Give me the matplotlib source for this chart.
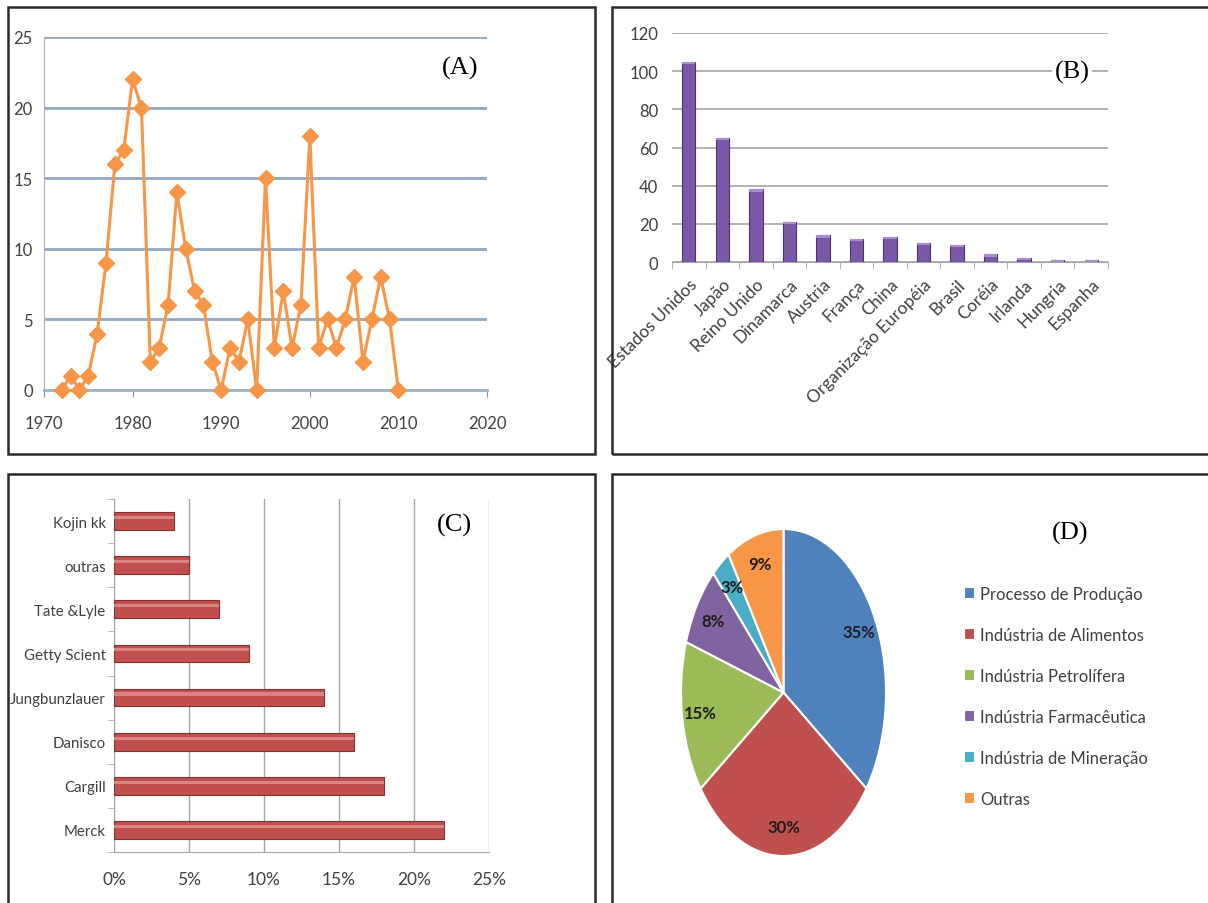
import matplotlib
matplotlib.use("Agg")
import matplotlib.pyplot as plt
from matplotlib.patches import Rectangle
from matplotlib.ticker import FixedLocator, FuncFormatter
import numpy as np

plt.rcParams['font.family'] = ['Lato', 'DejaVu Sans']

# Panel A - number of records per year
years = list(range(1972, 2011))
counts = [0, 1, 0, 1, 4, 9, 16, 17, 22, 20, 2, 3, 6, 14, 10, 7, 6, 2, 0, 3,
          2, 5, 0, 15, 3, 7, 3, 6, 18, 3, 5, 3, 5, 8, 2, 5, 8, 5, 0]

# Panel B - countries
countries = ['Estados Unidos', 'Japão', 'Reino Unido', 'Dinamarca', 'Austria',
             'França', 'China', 'Organização Européia', 'Brasil', 'Coréia',
             'Irlanda', 'Hungria', 'Espanha']
country_vals = [105, 65, 38, 21, 14, 12, 13, 10, 9, 4, 2, 1, 1]

# Panel C - companies (share)
companies = ['Merck', 'Cargill', 'Danisco', 'Jungbunzlauer', 'Getty Scient',
             'Tate &Lyle', 'outras', 'Kojin kk']
company_share = [0.22, 0.18, 0.16, 0.14, 0.09, 0.07, 0.05, 0.04]

# Panel D - applications
sectors = ['Processo de Produção', 'Indústria de Alimentos', 'Indústria Petrolífera',
           'Indústria Farmacêutica', 'Indústria de Mineração', 'Outras']
sector_pct = [35, 30, 15, 8, 3, 9]
sector_colors = ['#4F81BD', '#C0504D', '#9BBB59', '#8064A2', '#4BACC6', '#F79646']

W, H = 1208, 904
fig = plt.figure(figsize=(W / 100, H / 100), dpi=100)


def px_axes(x0, y0, x1, y1):
    # axes placed from pixel coords (top-left origin)
    return fig.add_axes([x0 / W, 1 - y1 / H, (x1 - x0) / W, (y1 - y0) / H])


def px_box(x0, y0, x1, y1):
    fig.patches.append(Rectangle((x0 / W, 1 - y1 / H), (x1 - x0) / W, (y1 - y0) / H,
                                 transform=fig.transFigure, fill=False,
                                 edgecolor='#2a2a2a', lw=1.8))


def panel_label(x, y, s):
    fig.text(x / W, 1 - y / H, s, family='Liberation Serif', fontsize=19,
             ha='center', va='center', color='black',
             bbox=dict(facecolor='white', edgecolor='none', pad=2))


px_box(8, 8, 595, 455)
px_box(612, 8, 1215, 455)
px_box(8, 475, 595, 915)
px_box(612, 475, 1215, 915)

tick_col = '#404040'

# ---- (A) line chart
axA = px_axes(44, 38, 487, 391)
axA.plot(years, counts, color='#F79646', lw=2.2, marker='D', ms=8,
         markeredgecolor='#F79646', zorder=3, clip_on=False)
axA.set_xlim(1970, 2020)
axA.set_ylim(0, 25)
axA.set_xticks(range(1970, 2021, 10))
axA.set_yticks(range(0, 26, 5))
axA.grid(axis='y', color='#92A9C2', lw=2)
axA.set_axisbelow(True)
for s in ['top', 'right']:
    axA.spines[s].set_visible(False)
axA.spines['left'].set_color('#B0B0B0')
axA.spines['bottom'].set_color('#9FB3C8')
axA.spines['bottom'].set_linewidth(2)
axA.tick_params(axis='x', colors='#909090', labelcolor=tick_col, labelsize=12,
                length=5, pad=13)
axA.tick_params(axis='y', length=0, labelcolor=tick_col, labelsize=12, pad=8)
panel_label(460, 68, '(A)')

# ---- (B) vertical bars
axB = px_axes(672, 34, 1108, 263)
xb = np.arange(len(countries))
axB.bar(xb, country_vals, width=0.4, color='#7A58A8', edgecolor='#4B3470',
        lw=0.8, zorder=3)
# light top cap like the 3D bars
axB.bar(xb, [1.2] * len(xb), bottom=np.array(country_vals) - 1.2, width=0.4,
        color='#A98BD0', lw=0, zorder=4)
axB.set_xlim(-0.5, len(countries) - 0.5)
axB.set_ylim(0, 120)
axB.set_yticks(range(0, 121, 20))
axB.grid(axis='y', color='#A6A6A6', lw=1.2)
axB.set_axisbelow(True)
for s in ['top', 'right', 'left']:
    axB.spines[s].set_visible(False)
axB.spines['bottom'].set_color('#A6A6A6')
axB.set_xticks(xb)
axB.set_xticklabels(countries, rotation=45, ha='right', rotation_mode='anchor')
axB.xaxis.set_minor_locator(FixedLocator(np.arange(-0.5, len(countries), 1)))
axB.tick_params(axis='x', which='major', length=0, labelcolor=tick_col,
                labelsize=12.5, pad=10)
axB.tick_params(axis='x', which='minor', length=5, color='#A6A6A6')
axB.tick_params(axis='y', length=0, labelcolor=tick_col, labelsize=12, pad=10)
panel_label(1072, 72, '(B)')

# ---- (C) horizontal bars
axC = px_axes(114, 500, 489, 853)
yc = np.arange(len(companies))
axC.barh(yc, company_share, height=0.4, color='#C0504D', edgecolor='#8A2F2C',
         lw=0.8, zorder=3)
axC.barh(yc + 0.08, company_share, height=0.07, color='#D98482', lw=0, zorder=4)
axC.set_ylim(-0.5, len(companies) - 0.5)
axC.set_xlim(0, 0.25)
axC.set_xticks(np.arange(0, 0.251, 0.05))
axC.xaxis.set_major_formatter(FuncFormatter(lambda v, p: '%d%%' % round(v * 100)))
axC.grid(axis='x', color='#A6A6A6', lw=1)
axC.set_axisbelow(True)
for s in ['top', 'right']:
    axC.spines[s].set_visible(False)
axC.spines['left'].set_color('#A6A6A6')
axC.spines['bottom'].set_color('#A6A6A6')
axC.set_yticks(yc)
axC.set_yticklabels(companies)
axC.yaxis.set_minor_locator(FixedLocator(np.arange(-0.5, len(companies), 1)))
axC.tick_params(axis='y', which='major', length=0, labelcolor=tick_col,
                labelsize=10.8, pad=6)
axC.tick_params(axis='y', which='minor', length=4, color='#A6A6A6')
axC.tick_params(axis='x', length=0, labelcolor=tick_col, labelsize=12.5, pad=14)
panel_label(454, 525, '(C)')

# ---- (D) pie
axD = px_axes(681, 530, 886, 857)
wedges, texts, autotexts = axD.pie(
    sector_pct, colors=sector_colors, startangle=90, counterclock=False,
    autopct='%d%%', pctdistance=0.82,
    wedgeprops=dict(edgecolor='white', linewidth=1.5),
    textprops=dict(fontsize=12, fontweight='bold', color='#1e1e1e'))
axD.set_aspect('auto')
axD.set_xlim(-1, 1)
axD.set_ylim(-1, 1)
panel_label(1070, 533, '(D)')

fig.legend(wedges, sectors, loc='upper left',
           bbox_to_anchor=(957 / W, 1 - 580 / H), frameon=False,
           fontsize=12, handlelength=0.7, handleheight=0.7,
           handletextpad=0.3, labelspacing=1.5, borderaxespad=0,
           labelcolor=tick_col)

fig.savefig('out.png', dpi=100, facecolor='white')
